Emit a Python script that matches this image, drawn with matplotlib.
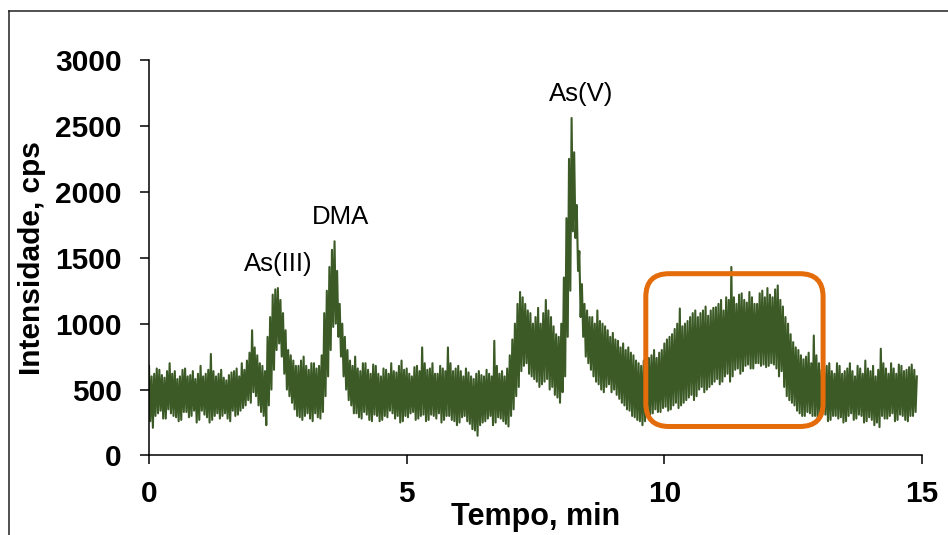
import numpy as np
import matplotlib.pyplot as plt
from matplotlib.patches import FancyBboxPatch
from matplotlib.lines import Line2D

plt.rcParams['font.family'] = ['Liberation Sans', 'DejaVu Sans']

# ── data ──────────────────────────────────────────────
# noise maxima at 0.0, 0.1 ... 14.9 min
hi_a = [
    680, 620, 650, 590, 700, 640, 600, 660, 610, 580,
    680, 620, 770, 600, 650, 570, 630, 660, 700, 720,
    950, 760, 680, 900, 1220, 1270, 1080, 800, 720, 680,
    750, 650, 700, 680, 1080, 1430, 1625, 1150, 900, 720,
    750, 640, 700, 620, 680, 600, 650, 700, 630, 720,
    660, 600, 680, 820, 650, 700, 620, 660, 820, 640,
    680, 600, 630, 580, 640, 600, 620, 870, 620, 600,
    760, 1000, 1240, 1150, 1080, 1050, 1000, 1180, 1050, 920,
    1000, 1800, 2560, 1900, 1300, 1100, 1050, 1100, 1000, 950,
    930, 870, 850, 820, 760, 700, 720, 740, 800, 780,
    850, 900, 960, 1115, 1000, 1050, 1100, 1080, 1130, 1100,
    1125, 1180, 1200, 1430, 1150, 1230, 1160, 1200, 1150, 1250,
    1270, 1200, 1290, 1130, 1000, 860, 800, 730, 780, 910,
    700, 660, 700, 620, 680, 640, 700, 600, 660, 720,
    640, 600, 810, 660, 700, 620, 680, 650, 690, 600,
]
# noise minima at 0.025, 0.125 ... 14.825 min
lo_a = [
    260, 300, 340, 280, 320, 290, 270, 330, 300, 250,
    340, 290, 270, 320, 300, 280, 340, 310, 360, 420,
    480, 380, 300, 380, 650, 850, 620, 450, 350, 290,
    300, 280, 320, 280, 450, 800, 1000, 750, 500, 380,
    320, 280, 310, 260, 300, 270, 290, 320, 300, 260,
    290, 330, 280, 310, 270, 300, 320, 270, 300, 260,
    250, 300, 240, 190, 230, 260, 300, 250, 280, 240,
    300, 450, 640, 700, 600, 560, 540, 580, 520, 440,
    480, 900, 1700, 1400, 900, 700, 600, 540, 480, 540,
    500, 430, 380, 340, 290, 260, 260, 310, 350, 330,
    370, 350, 400, 380, 420, 460, 450, 520, 500, 540,
    580, 560, 620, 600, 660, 640, 690, 660, 700, 690,
    680, 690, 600, 520, 420, 380, 320, 300, 320, 300,
    280, 310, 270, 300, 290, 260, 320, 280, 300, 260,
    270, 250, 300, 280, 320, 270, 300, 260, 300,
]
# noise maxima at 0.05, 0.15 ... 14.85 min
hi_b = [
    600, 660, 610, 640, 620, 580, 650, 600, 640, 620,
    600, 650, 640, 620, 590, 610, 640, 600, 650, 780,
    820, 700, 640, 1050, 1260, 1180, 950, 760, 680, 720,
    680, 700, 660, 760, 1250, 1560, 1400, 1000, 800, 680,
    660, 700, 650, 690, 620, 660, 620, 640, 680, 650,
    620, 670, 640, 700, 660, 620, 680, 640, 700, 660,
    640, 660, 600, 620, 610, 650, 600, 680, 640, 660,
    880, 1150, 1200, 1100, 1000, 1120, 1080, 1100, 980, 900,
    1350, 2250, 2300, 1550, 1150, 1050, 1000, 1020, 980, 900,
    880, 820, 800, 780, 720, 680, 700, 760, 740, 800,
    880, 920, 1000, 980, 1020, 1080, 1050, 1100, 1060, 1120,
    1150, 1100, 1180, 1200, 1220, 1180, 1240, 1150, 1230, 1200,
    1220, 1260, 1180, 1050, 920, 820, 760, 750, 700, 760,
    650, 680, 640, 700, 620, 660, 640, 680, 620, 660,
    680, 650, 700, 620, 660, 690, 640, 670, 650,
]
# noise minima at 0.075, 0.175 ... 14.875 min
lo_b = [
    210, 320, 280, 350, 300, 260, 330, 290, 340, 270,
    310, 250, 300, 280, 320, 260, 300, 340, 380, 400,
    450, 330, 230, 500, 800, 750, 500, 400, 300, 270,
    320, 260, 290, 330, 600, 975, 900, 600, 420, 320,
    290, 330, 270, 310, 260, 300, 340, 280, 250, 300,
    320, 270, 300, 260, 310, 280, 250, 300, 270, 230,
    290, 260, 200, 150, 250, 280, 230, 290, 260, 220,
    350, 520, 680, 620, 580, 520, 560, 500, 460, 400,
    600, 1250, 1650, 1050, 750, 650, 560, 500, 520, 480,
    460, 400, 350, 300, 270, 230, 300, 320, 330, 360,
    340, 380, 360, 400, 440, 420, 500, 480, 520, 560,
    540, 600, 560, 650, 620, 680, 660, 700, 680, 670,
    700, 660, 640, 450, 400, 340, 300, 330, 300, 280,
    320, 260, 300, 280, 250, 300, 270, 310, 250, 290,
    230, 215, 280, 300, 260, 310, 270, 300, 330,
]

peak_names = ["As(III)", "DMA", "As(V)"]
peak_label_x = [2.50, 3.71, 8.39]
peak_label_y = [1451, 1807, 2739]

# highlighted region (min, cps)
box_x = [9.64, 13.08]
box_y = [220, 1379]

# ── interleave into one trace ─────────────────────────
n = len(lo_a)
t_grid = np.arange(len(hi_a)) * 0.1
t = [t_grid[-1]]
y = [hi_a[-1]]
t = np.concatenate([np.column_stack([t_grid[:n], t_grid[:n] + 0.025,
                                     t_grid[:n] + 0.05, t_grid[:n] + 0.075]).ravel(), t])
y = np.concatenate([np.column_stack([hi_a[:n], lo_a, hi_b, lo_b]).ravel(), y])

# ── plot ──────────────────────────────────────────────
fig = plt.figure(figsize=(9.48, 5.35), dpi=100)
ax = fig.add_axes([0.1572, 0.1486, 0.8154, 0.7393])

ax.plot(t, y, color="#3B5A26", linewidth=1.5)

for name, px, py in zip(peak_names, peak_label_x, peak_label_y):
    ax.text(px, py, name, ha="center", va="center", fontsize=18.5)

box = FancyBboxPatch((box_x[0], box_y[0]), box_x[1] - box_x[0], box_y[1] - box_y[0],
                     boxstyle="round,pad=0,rounding_size=0.45", mutation_aspect=390,
                     facecolor="none", edgecolor="#E46C0A", linewidth=3.6, zorder=3)
ax.add_patch(box)

ax.set_xlim(0, 15)
ax.set_ylim(0, 3000)
ax.set_xticks([0, 5, 10, 15])
ax.set_yticks(range(0, 3001, 500))
for s in ["top", "right"]:
    ax.spines[s].set_visible(False)
for s in ["left", "bottom"]:
    ax.spines[s].set_linewidth(1.1)
ax.tick_params(direction="out", length=6.5, width=1.1, pad=13, labelsize=21.5)
ax.tick_params(axis="x", pad=11)
for lab in ax.get_xticklabels() + ax.get_yticklabels():
    lab.set_fontweight("bold")

ax.set_xlabel("Tempo, min", fontsize=22, fontweight="bold", labelpad=-4)
ax.set_ylabel("Intensidade, cps", fontsize=21.5, fontweight="bold", labelpad=7)

# outer chart frame (cut at right and bottom)
fig.add_artist(Line2D([0.009, 0.009], [0.0, 0.980], color="#222222", linewidth=1.1))
fig.add_artist(Line2D([0.009, 1.0], [0.980, 0.980], color="#222222", linewidth=1.1))

fig.savefig("out.png", dpi=100)
